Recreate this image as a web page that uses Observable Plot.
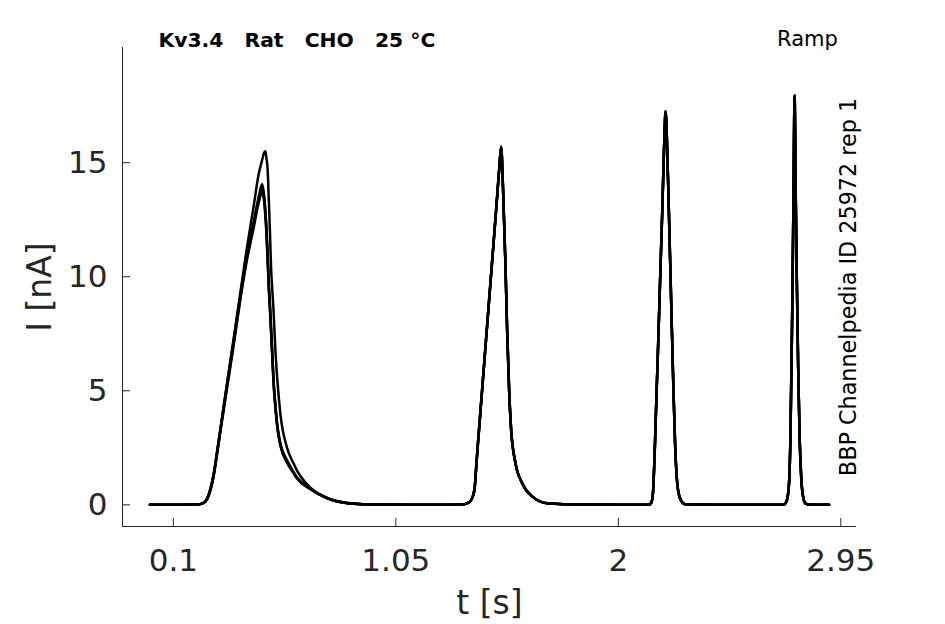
<!DOCTYPE html>
<html>
<head>
<meta charset="utf-8">
<script src="https://cdn.jsdelivr.net/npm/d3@7"></script>
<script src="https://cdn.jsdelivr.net/npm/@observablehq/plot@0.6"></script>
<style>
  html, body { margin: 0; padding: 0; background: #ffffff; }
</style>
</head>
<body>
<div id="chart"></div>
<script>
// ---- data (time in s, current in nA) ----
const repNames = ["rep A", "rep B", "rep C", "rep D"];

// first pulse: traces differ
const tHead = [0, 0.1, 0.2, 0.2153, 0.2367, 0.251, 0.2723, 0.2865, 0.3008, 0.3292, 0.3577, 0.3862, 0.4147, 0.4432, 0.4645, 0.4788, 0.486, 0.493, 0.4975, 0.5028, 0.5072, 0.5125, 0.5173, 0.5215, 0.528, 0.5357, 0.544, 0.557, 0.5856, 0.6126, 0.6283, 0.6852, 0.7564, 0.842, 0.9557];
const headA = [0, 0, 0.01, 0.03, 0.15, 0.45, 1.35, 2.3, 3.3, 5.3, 7.3, 9.3, 11.3, 13.1, 14.5, 15.1, 15.4, 15.5, 15.2, 14.7, 13.5, 12.0, 10.4, 9.6, 8.5, 6.8, 5.5, 4.0, 2.5, 1.83, 1.5, 0.75, 0.3, 0.08, 0.01];
const headB = [0, 0, 0.01, 0.03, 0.15, 0.45, 1.35, 2.3, 3.3, 5.3, 7.2, 9.2, 11.0, 12.4, 13.5, 14.05, 13.7, 12.9, 12.2, 11.0, 9.8, 8.8, 7.8, 6.9, 5.5, 4.4, 3.5, 2.7, 1.95, 1.45, 1.2, 0.72, 0.3, 0.08, 0.01];
const headC = [0, 0, 0.01, 0.03, 0.14, 0.42, 1.3, 2.25, 3.25, 5.2, 7.1, 9.1, 10.9, 12.3, 13.4, 13.9, 13.6, 12.8, 12.05, 10.85, 9.7, 8.7, 7.7, 6.8, 5.4, 4.35, 3.45, 2.65, 1.9, 1.42, 1.18, 0.7, 0.29, 0.08, 0.01];
const headD = [0, 0, 0.01, 0.03, 0.13, 0.4, 1.25, 2.2, 3.2, 5.1, 7.0, 9.0, 10.75, 12.15, 13.25, 13.7, 13.45, 12.65, 11.9, 10.7, 9.55, 8.55, 7.55, 6.7, 5.3, 4.25, 3.4, 2.6, 1.85, 1.4, 1.15, 0.68, 0.28, 0.07, 0.01];

// later pulses: traces overlap
const tTail = [1.1, 1.25, 1.326, 1.3615, 1.3786, 1.3872, 1.3943, 1.4185, 1.4398, 1.4612, 1.4797, 1.492, 1.4997, 1.508, 1.518, 1.5253, 1.5338, 1.5424, 1.5609, 1.5894, 1.6321, 1.6962, 1.85, 2.0, 2.13, 2.14, 2.147, 2.155, 2.163, 2.17, 2.178, 2.188, 2.197, 2.2017, 2.207, 2.215, 2.225, 2.235, 2.243, 2.252, 2.265, 2.285, 2.5, 2.705, 2.718, 2.728, 2.735, 2.742, 2.748, 2.7527, 2.757, 2.762, 2.768, 2.774, 2.781, 2.79, 2.8, 2.82, 2.9];
const iTail = [0, 0, 0.01, 0.1, 0.37, 0.8, 1.83, 5.04, 7.85, 10.67, 13.12, 14.8, 15.7, 13.79, 10.58, 7.66, 5.04, 3.29, 1.83, 0.95, 0.37, 0.07, 0.01, 0, 0, 0.08, 0.4, 2.2, 4.8, 7.0, 9.7, 13.0, 16.2, 17.25, 16.2, 13.2, 9.2, 5.2, 2.5, 0.9, 0.25, 0.03, 0, 0, 0.15, 0.8, 3.0, 8.0, 13.5, 17.95, 14.0, 10.0, 6.0, 3.0, 1.2, 0.3, 0.05, 0, 0];

const xTicks = [0.1, 1.05, 2, 2.95];
const xTickLabels = ["0.1", "1.05", "2", "2.95"];
const yTicks = [0, 5, 10, 15];
const yTickLabels = ["0", "5", "10", "15"];
const xDomain = [-0.117, 3.017];
const yDomain = [-0.95, 20.05];

const titleText = "Kv3.4\u00A0\u00A0\u00A0Rat\u00A0\u00A0\u00A0CHO\u00A0\u00A0\u00A025 °C";
const protocolText = "Ramp";
const sideText = "BBP Channelpedia ID 25972 rep 1";
const xLabel = "t [s]";
const yLabel = "I [nA]";

// ---- build table ----
const heads = [headA, headB, headC, headD];
const rows = [];
heads.forEach((h, k) => {
  tHead.forEach((t, i) => rows.push({rep: repNames[k], t, I: h[i]}));
  tTail.forEach((t, i) => rows.push({rep: repNames[k], t, I: iTail[i]}));
});

const W = 945, H = 624;
const mL = 122, mR = 89, mT = 47, mB = 98;
const plotW = W - mL - mR, plotH = H - mT - mB;
const axisColor = "#262626";
const font = "DejaVu Sans, Liberation Sans, sans-serif";

const chart = Plot.plot({
  width: W,
  height: H,
  marginLeft: mL,
  marginRight: mR,
  marginTop: mT,
  marginBottom: mB,
  style: {fontFamily: font, background: "#ffffff", color: axisColor, overflow: "visible"},
  x: {domain: xDomain},
  y: {domain: yDomain},
  marks: [
    // axis lines (box off: left + bottom only)
    Plot.ruleX([xDomain[0]], {stroke: axisColor, strokeWidth: 1}),
    Plot.ruleY([yDomain[0]], {stroke: axisColor, strokeWidth: 1}),
    // inward ticks
    Plot.tickX(xTicks, {x: d => d, insetTop: plotH - 8, stroke: axisColor, strokeWidth: 1}),
    Plot.tickY(yTicks, {y: d => d, insetRight: plotW - 8, stroke: axisColor, strokeWidth: 1}),
    Plot.axisX(xTicks, {tickSize: 0, tickPadding: 22, fontSize: 31, label: null,
      tickFormat: d => xTickLabels[xTicks.indexOf(d)]}),
    Plot.axisY(yTicks, {tickSize: 0, tickPadding: 15, fontSize: 31, label: null,
      tickFormat: d => yTickLabels[yTicks.indexOf(d)]}),
    // traces
    Plot.line(rows, {x: "t", y: "I", z: "rep", stroke: "#000000", strokeWidth: 2.5, curve: "monotone-x"}),
    // texts
    Plot.text([xLabel], {frameAnchor: "bottom", dy: 77, textAnchor: "middle", lineAnchor: "middle", fontSize: 33, fill: axisColor}),
    Plot.text([yLabel], {frameAnchor: "left", dx: -82, rotate: -90, textAnchor: "middle", lineAnchor: "middle", fontSize: 33, fill: axisColor}),
    Plot.text([titleText], {frameAnchor: "top-left", dx: 36, dy: -7, textAnchor: "start", lineAnchor: "middle", fontSize: 20.3, fontWeight: "bold", fill: "#000000"}),
    Plot.text([protocolText], {frameAnchor: "top-right", dx: -49, dy: -8.5, textAnchor: "middle", lineAnchor: "middle", fontSize: 21, fill: "#000000"}),
    Plot.text([sideText], {frameAnchor: "right", dx: -7.5, rotate: -90, textAnchor: "middle", lineAnchor: "middle", fontSize: 22.3, fill: "#000000"})
  ]
});
document.getElementById("chart").appendChild(chart);
</script>
</body>
</html>
